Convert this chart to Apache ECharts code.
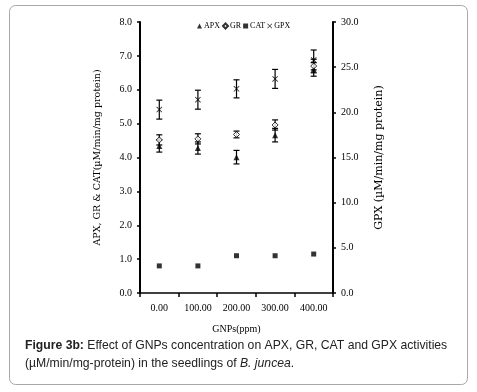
<!DOCTYPE html>
<html>
<head>
<meta charset="utf-8">
<script src="https://cdn.jsdelivr.net/npm/echarts@6/dist/echarts.min.js"></script>
<style>html,body{margin:0;padding:0;background:#fff}#c{width:477px;height:392px}</style>
</head>
<body>
<div id="c"></div>
<script>
const categories = ['0.00', '100.00', '200.00', '300.00', '400.00'];
const apx = [4.34, 4.28, 4.01, 4.66, 6.6];
const apxErr = [0.18, 0.18, 0.2, 0.2, 0.2];
const gr = [4.52, 4.55, 4.68, 4.96, 6.7];
const grErr = [0.15, 0.15, 0.1, 0.15, 0.2];
const cat = [0.8, 0.8, 1.1, 1.1, 1.15];
const gpx = [20.3, 21.4, 22.6, 23.7, 25.8];
const gpxErr = [1.05, 1.05, 1.0, 1.05, 1.1];
const leftTicks = [0, 1, 2, 3, 4, 5, 6, 7, 8];
const rightTicks = [0, 5, 10, 15, 20, 25, 30];

const serif = "'Liberation Serif','Times New Roman',serif";
const wideSerif = "'DejaVu Serif',serif";
const sans = "'Liberation Sans',Arial,sans-serif";
const crossPath = 'path://M0,1L1,0L5,4L9,0L10,1L6,5L10,9L9,10L5,6L1,10L0,9L4,5Z';

function errSeries(vals, errs, yIdx) {
  return {
    type: 'custom', yAxisIndex: yIdx, silent: true, z: 1,
    data: vals.map((v, i) => [i, v - errs[i], v + errs[i]]),
    renderItem: function (params, api) {
      const lo = api.coord([api.value(0), api.value(1)]);
      const hi = api.coord([api.value(0), api.value(2)]);
      const w = 3;
      const st = { stroke: '#000', lineWidth: 1.2 };
      return { type: 'group', children: [
        { type: 'line', shape: { x1: lo[0], y1: lo[1], x2: hi[0], y2: hi[1] }, style: st },
        { type: 'line', shape: { x1: lo[0] - w, y1: lo[1], x2: lo[0] + w, y2: lo[1] }, style: st },
        { type: 'line', shape: { x1: hi[0] - w, y1: hi[1], x2: hi[0] + w, y2: hi[1] }, style: st }
      ]};
    }
  };
}

const chart = echarts.init(document.getElementById('c'));
chart.setOption({
  animation: false,
  backgroundColor: '#fff',
  grid: { left: 140, right: 144, top: 22, bottom: 99 },
  legend: {
    top: 17, left: 192, itemWidth: 5, itemHeight: 5, itemGap: 2,
    textStyle: { fontFamily: serif, fontSize: 8, color: '#000', padding: [0, 0, 0, -3] },
    data: [
      { name: 'APX', icon: 'triangle' },
      { name: 'GR', icon: 'diamond' },
      { name: 'CAT', icon: 'rect' },
      { name: 'GPX', icon: crossPath }
    ]
  },
  xAxis: {
    type: 'category', data: categories, boundaryGap: true,
    name: 'GNPs(ppm)', nameLocation: 'middle', nameGap: 31,
    nameTextStyle: { fontFamily: serif, fontSize: 10, color: '#000' },
    axisLine: { lineStyle: { color: '#000', width: 1.5 } },
    axisTick: { show: true, length: 4, lineStyle: { color: '#000', width: 1.5 } },
    axisLabel: { fontFamily: serif, fontSize: 10, color: '#000', margin: 10 },
    splitLine: { show: false }
  },
  yAxis: [
    {
      type: 'value', min: leftTicks[0], max: leftTicks[leftTicks.length - 1], interval: 1,
      name: 'APX, GR & CAT(µM/min/mg protein)', nameLocation: 'middle', nameGap: 37, nameRotate: 90,
      nameTextStyle: { fontFamily: wideSerif, fontSize: 9.5, color: '#000' },
      axisLine: { show: true, lineStyle: { color: '#000', width: 2 } },
      axisTick: { show: true, length: 3, lineStyle: { color: '#000', width: 1.5 } },
      axisLabel: { fontFamily: serif, fontSize: 10, color: '#000', margin: 8, formatter: v => v.toFixed(1) },
      splitLine: { show: false }
    },
    {
      type: 'value', min: rightTicks[0], max: rightTicks[rightTicks.length - 1], interval: 5,
      name: 'GPX (µM/min/mg protein)', nameLocation: 'middle', nameGap: 41, nameRotate: 90,
      nameTextStyle: { fontFamily: wideSerif, fontSize: 11, color: '#000' },
      axisLine: { show: true, lineStyle: { color: '#000', width: 2 } },
      axisTick: { show: true, length: 3, lineStyle: { color: '#000', width: 1.5 } },
      axisLabel: { fontFamily: serif, fontSize: 10, color: '#000', margin: 8, formatter: v => v.toFixed(1) },
      splitLine: { show: false }
    }
  ],
  graphic: [
    { type: 'rect', shape: { x: 9.5, y: 5.5, width: 458, height: 379, r: 6 },
      style: { fill: 'none', stroke: '#a8a8a8', lineWidth: 1 }, z: -1 },
    { type: 'text', left: 25, top: 340,
      style: { text: '{b|Figure 3b:} Effect of GNPs concentration on APX, GR, CAT and GPX activities',
        font: '12.2px ' + sans, fill: '#222',
        rich: { b: { fontWeight: 'bold', fontFamily: sans, fontSize: 12.2, fill: '#222' } } } },
    { type: 'text', left: 25, top: 358,
      style: { text: '(µM/min/mg-protein) in the seedlings of {i|B. juncea}.',
        font: '12.2px ' + sans, fill: '#222',
        rich: { i: { fontStyle: 'italic', fontFamily: sans, fontSize: 12.2, fill: '#222' } } } }
  ],
  series: [
    errSeries(apx, apxErr, 0),
    errSeries(gr, grErr, 0),
    errSeries(gpx, gpxErr, 1),
    { name: 'APX', type: 'scatter', yAxisIndex: 0, data: apx, symbol: 'triangle', symbolSize: 6,
      itemStyle: { color: '#000' }, z: 3 },
    { name: 'GR', type: 'scatter', yAxisIndex: 0, data: gr, symbol: 'diamond', symbolSize: 6,
      itemStyle: { color: '#fff', borderColor: '#000', borderWidth: 1 }, z: 3 },
    { name: 'CAT', type: 'scatter', yAxisIndex: 0, data: cat, symbol: 'rect', symbolSize: 5,
      itemStyle: { color: '#000' }, z: 3 },
    { name: 'GPX', type: 'scatter', yAxisIndex: 1, data: gpx, symbol: crossPath, symbolSize: 6,
      itemStyle: { color: '#000' }, z: 3 }
  ]
});
</script>
</body>
</html>
